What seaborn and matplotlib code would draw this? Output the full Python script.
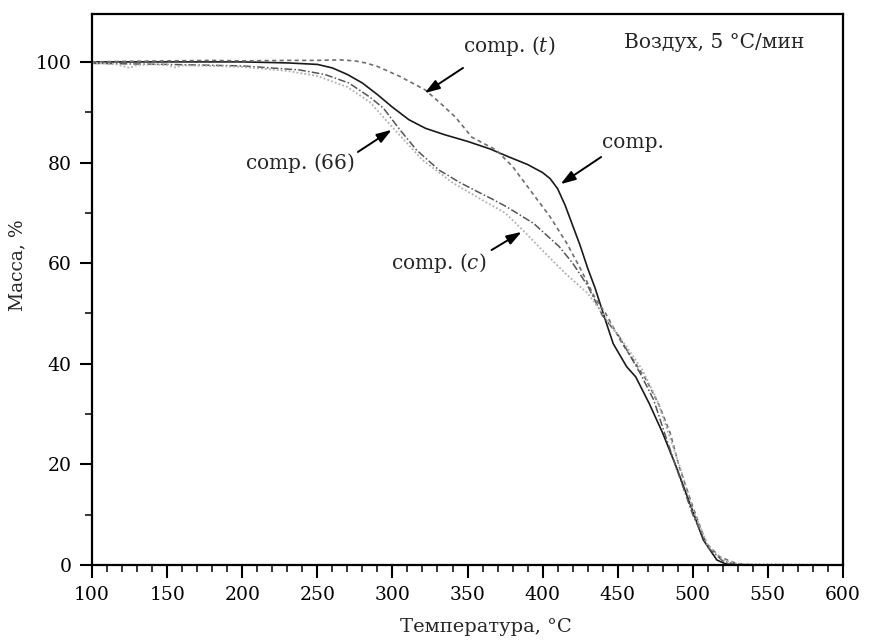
import matplotlib
matplotlib.use("Agg")
import matplotlib.pyplot as plt
import seaborn as sns
import pandas as pd
from matplotlib.ticker import MultipleLocator

# --- data ---
T_comp = [100,150,200,230,250,260,270,280,290,300,311,322,335,350,365,376,390,400,405,410,415,420,425,430,435,442,447,456,462,471,480,489,498,507,516,522,530,600]
m_comp = [100,100,100,99.8,99.5,98.8,97.5,95.8,93.5,91,88.5,86.8,85.5,84.2,82.7,81.3,79.6,78,76.8,74.8,71.5,67.5,63.5,59,55,48.5,44,39.4,37.4,32.1,26.2,19.5,12.3,5,1,0.2,0,0]

T_t = [100,120,150,180,200,230,250,265,275,282,290,305,322,333,342,353,369,380,393,405,416,425,435,442,453,462,469,478,485,491,500,509,518,529,540,600]
m_t = [100,100.1,100.2,100.3,100.2,100.3,100.3,100.4,100.2,99.8,99.1,97.1,94.4,91.5,89,85,82.5,79.2,74,69.2,64,59,53,50,44,40,36.8,31.5,26.2,19.5,11.6,4.3,1.6,0.3,0,0]

T_66 = [100,150,200,238,255,271,285,294,305,316,331,345,354,366,376,394,411,420,430,440,451,465,474,482,490,500,510,520,530,600]
m_66 = [99.7,99.5,99.2,98.4,97.5,95.8,93,90.8,86.5,82.5,78.5,76,74.6,72.8,71.2,67.9,63.3,60,55.5,49.5,45.4,38.1,32.8,25.5,18.5,10,3.5,0.8,0,0]

T_c = [100,115,125,130,140,150,155,160,180,200,230,250,270,285,300,320,340,360,375,387,400,415,430,440,452,466,476,484,492,500,510,520,530,600]
m_c = [99.8,99.6,98.8,99.4,99.5,99.4,98.9,99.3,99.2,99.0,98.2,97.2,95,92,87,80.5,76,72.5,70,66.5,62.5,58,54,50,45,39,33,26,19,11,4,1,0.2,0]

series_names = ["comp.", "comp. (t)", "comp. (66)", "comp. (c)"]
xs = [T_comp, T_t, T_66, T_c]
ys = [m_comp, m_t, m_66, m_c]

frames = []
for name, x, y in zip(series_names, xs, ys):
    frames.append(pd.DataFrame({"T": x, "m": y, "s": name}))
df = pd.concat(frames, ignore_index=True)

sns.set_style("ticks")
plt.rcParams['font.family'] = ['DejaVu Serif']
plt.rcParams['mathtext.fontset'] = 'dejavuserif'

fig = plt.figure(figsize=(8.69, 6.41), dpi=100)
ax = fig.add_axes([0.106, 0.1186, 0.864, 0.8594])

styles = {
    "comp.": dict(color="#1a1a1a", dashes=None, lw=1.2),
    "comp. (t)": dict(color="#6e6e6e", dashes=(2.5, 2), lw=1.2),
    "comp. (66)": dict(color="#555555", dashes=(5, 1.5, 1, 1.5), lw=1.1),
    "comp. (c)": dict(color="#b0b0b0", dashes=(1, 1.2), lw=1.3),
}
for name in series_names:
    st = styles[name]
    sub = df[df["s"] == name]
    sns.lineplot(data=sub, x="T", y="m", ax=ax, color=st["color"], lw=st["lw"],
                 estimator=None, sort=False, legend=False)
    line = ax.lines[-1]
    if st["dashes"] is not None:
        line.set_dashes(st["dashes"])

ax.set_xlim(100, 600)
ax.set_ylim(0, 109.5)
ax.xaxis.set_major_locator(MultipleLocator(50))
ax.xaxis.set_minor_locator(MultipleLocator(10))
ax.yaxis.set_major_locator(MultipleLocator(20))
ax.yaxis.set_minor_locator(MultipleLocator(10))
ax.tick_params(which="major", direction="out", length=9, width=1.5, labelsize=13.5,
               colors="black", pad=6)
ax.tick_params(which="minor", direction="out", length=5, width=1.3)
for sp in ax.spines.values():
    sp.set_visible(True)
    sp.set_linewidth(1.6)
    sp.set_color("black")

ax.set_xlabel("Температура, °C", fontsize=14)
ax.xaxis.set_label_coords(0.525, -0.096)
ax.set_ylabel("Масса, %", fontsize=13.5)
ax.yaxis.set_label_coords(-0.087, 0.545)

fs = 14.5
ax.text(514, 103.8, "Воздух, 5 °C/мин", fontsize=fs, ha="center", va="center")
ax.text(378, 103.2, r"comp. ($\mathit{t}$)", fontsize=fs, ha="center", va="center")
ax.text(238.5, 80.0, r"comp. ($\mathit{66}$)", fontsize=fs, ha="center", va="center")
ax.text(460, 84.0, "comp.", fontsize=fs, ha="center", va="center")
ax.text(331, 60.0, r"comp. ($\mathit{c}$)", fontsize=fs, ha="center", va="center")

arrow = dict(arrowstyle="-|>,head_length=0.9,head_width=0.3", color="black", lw=1.4,
             shrinkA=0, shrinkB=0)
ax.annotate("", xy=(321.5, 93.8), xytext=(347, 98.8), arrowprops=arrow)
ax.annotate("", xy=(299.5, 86.5), xytext=(277, 82.1), arrowprops=arrow)
ax.annotate("", xy=(412, 75.7), xytext=(439, 81.1), arrowprops=arrow)
ax.annotate("", xy=(386, 66.2), xytext=(366, 62.6), arrowprops=arrow)

fig.savefig("out.png", dpi=100)
